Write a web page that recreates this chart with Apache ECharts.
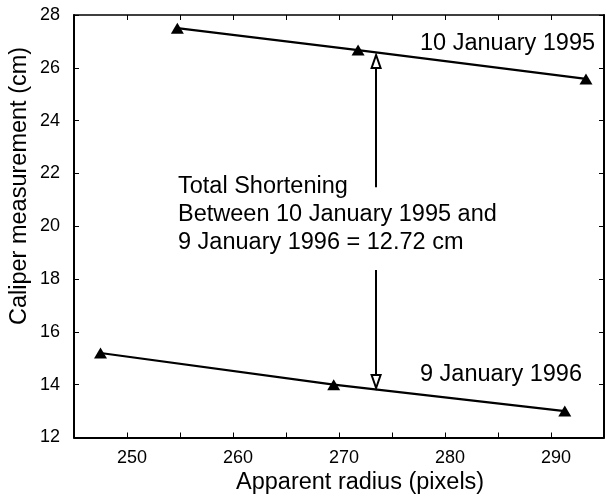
<!DOCTYPE html>
<html>
<head>
<meta charset="utf-8">
<script src="https://cdn.jsdelivr.net/npm/echarts@6/dist/echarts.min.js"></script>
<style>
  html, body { margin: 0; padding: 0; background: #fff; }
  #chart { width: 607px; height: 504px; }
</style>
</head>
<body>
<div id="chart"></div>
<script>
// data
var seriesNames = ['10 January 1995', '9 January 1996'];
var radius1995 = [254.75, 271.8, 293.3];
var caliper1995 = [27.5, 26.67, 25.58];
var radius1996 = [247.5, 269.5, 291.3];
var caliper1996 = [15.2, 14.0, 13.0];

// arrow between the two lines (arrowhead centre at the end value)
var arrowX = 273.5;
var arrowUp = [21.48, 26.24];   // from, to
var arrowDown = [18.34, 14.12];
var noteLines = ['Total Shortening', 'Between 10 January 1995 and', '9 January 1996 = 12.72 cm'];

var font = '"Liberation Sans", Arial, Helvetica, sans-serif';

function pairs(xs, ys) {
  return xs.map(function (x, i) { return [x, ys[i]]; });
}

var chart = echarts.init(document.getElementById('chart'));

var axisLine = { show: true, lineStyle: { color: '#000', width: 2 } };
var tickIn = { show: true, inside: true, length: 5, lineStyle: { color: '#000', width: 1 } };

var option = {
  animation: false,
  backgroundColor: '#fff',
  grid: { left: 74, top: 15, width: 536, height: 422.5 },
  xAxis: [
    {
      type: 'value', min: 245, max: 295, interval: 5, position: 'bottom',
      axisLine: axisLine, axisTick: tickIn, splitLine: { show: false },
      axisLabel: {
        color: '#000', fontSize: 18, fontFamily: font, margin: 12,
        padding: [0, 0, 0, 10],
        formatter: function (v) { return (v % 10 === 0 && v < 295) ? String(v) : ''; }
      }
    },
    {
      type: 'value', min: 245, max: 295, interval: 5, position: 'top',
      axisLine: { show: true, lineStyle: { color: '#000', width: 1.5 } },
      axisTick: tickIn, axisLabel: { show: false }, splitLine: { show: false }
    }
  ],
  yAxis: [
    {
      type: 'value', min: 12, max: 28, interval: 2, position: 'left',
      axisLine: axisLine, axisTick: tickIn, splitLine: { show: false },
      axisLabel: { color: '#000', fontSize: 18, fontFamily: font, margin: 14 }
    },
    {
      type: 'value', min: 12, max: 28, interval: 2, position: 'right',
      axisLine: axisLine, axisTick: tickIn, axisLabel: { show: false }, splitLine: { show: false }
    }
  ],
  series: [
    {
      name: seriesNames[0], type: 'line', data: pairs(radius1995, caliper1995),
      symbol: 'triangle', symbolSize: [13, 11],
      itemStyle: { color: '#000' }, lineStyle: { color: '#000', width: 2.2 },
      markLine: {
        silent: true,
        symbol: ['none', 'emptyTriangle'], symbolSize: [9, 13],
        label: { show: false },
        lineStyle: { color: '#000', width: 2, type: 'solid' },
        itemStyle: { color: '#000', borderColor: '#000', borderWidth: 1.5 },
        data: [
          [{ coord: [arrowX, arrowUp[0]] }, { coord: [arrowX, arrowUp[1]] }],
          [{ coord: [arrowX, arrowDown[0]] }, { coord: [arrowX, arrowDown[1]] }]
        ]
      }
    },
    {
      name: seriesNames[1], type: 'line', data: pairs(radius1996, caliper1996),
      symbol: 'triangle', symbolSize: [13, 11],
      itemStyle: { color: '#000' }, lineStyle: { color: '#000', width: 2.2 }
    }
  ],
  graphic: [
    {
      type: 'text', left: 420, top: 32,
      style: { text: seriesNames[0], fill: '#000', font: '23.5px ' + font }
    },
    {
      type: 'text', left: 420, top: 363,
      style: { text: seriesNames[1], fill: '#000', font: '23.5px ' + font }
    },
    {
      type: 'text', left: 178, top: 172,
      style: { text: noteLines.join('\n'), fill: '#000', font: '23.5px ' + font, lineHeight: 28.3 }
    },
    {
      type: 'text', left: 236, top: 471,
      style: { text: 'Apparent radius (pixels)', fill: '#000', font: '23.5px ' + font }
    },
    {
      type: 'text', x: 8, y: 325, rotation: Math.PI / 2,
      style: { text: 'Caliper measurement (cm)', fill: '#000', font: '23.5px ' + font }
    }
  ]
};

chart.setOption(option);
</script>
</body>
</html>
